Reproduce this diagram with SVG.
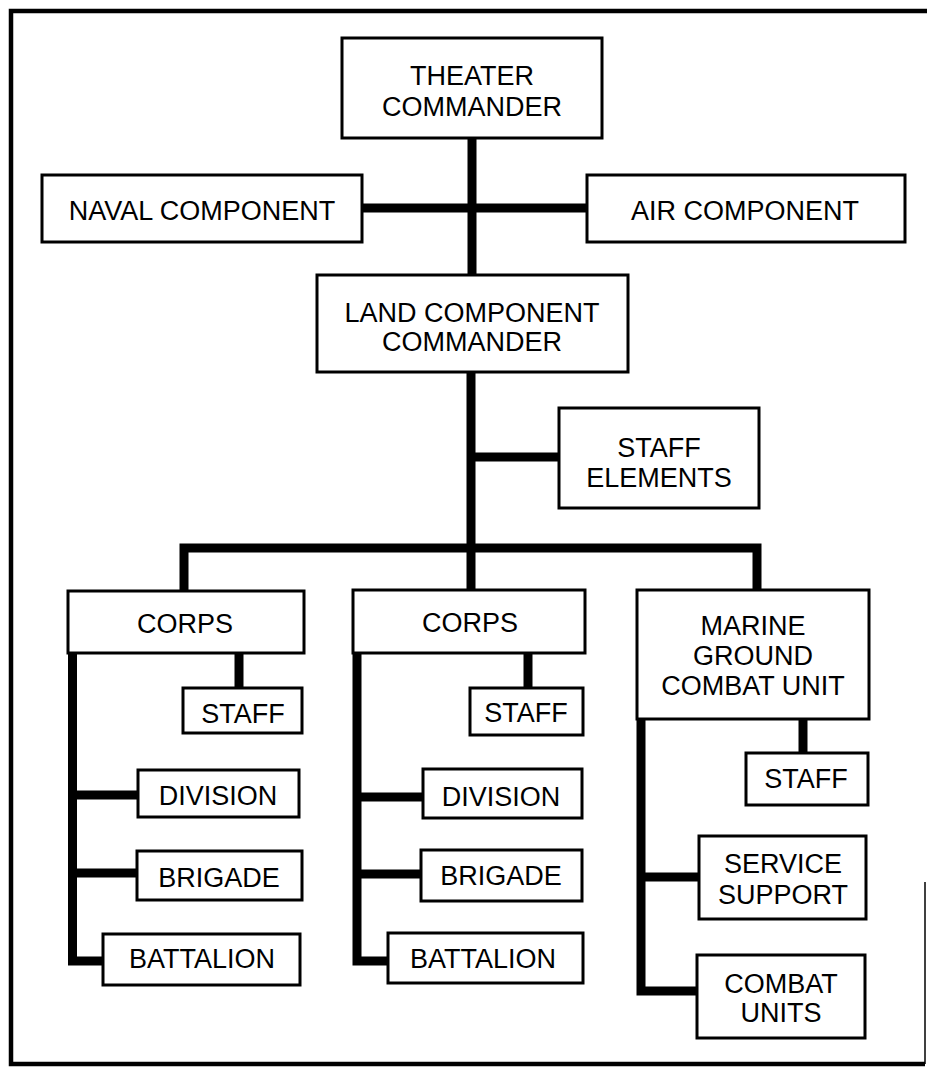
<svg xmlns="http://www.w3.org/2000/svg" width="927" height="1070" viewBox="0 0 927 1070">
<style>
.box{fill:#fff;stroke:#000;stroke-width:3}
.lbl{font-family:"Liberation Sans",Arial,sans-serif;font-size:27px;fill:#000;text-anchor:middle}
.conn{fill:none;stroke:#000;stroke-width:9;stroke-linejoin:miter;stroke-linecap:butt}
.frame{fill:none;stroke:#000;stroke-width:4.5}
</style>
<rect width="927" height="1070" fill="#fff"/>
<g id="frame">
<path class="frame" d="M927 11 H11 V1064 H925"/>
<line x1="925" y1="882" x2="925" y2="1064" stroke="#000" stroke-width="1.5"/>
</g>
<g id="connectors">
<path class="conn" d="M472 138 V275"/>
<path class="conn" d="M362 208 H587"/>
<path class="conn" d="M471 372 V590"/>
<path class="conn" d="M471 457 H559"/>
<path class="conn" d="M184 591 V548 H757 V590"/>
<path class="conn" d="M72.5 653 V961 H103"/>
<path class="conn" d="M72.5 795 H138"/>
<path class="conn" d="M72.5 873 H137"/>
<path class="conn" d="M239 653 V688"/>
<path class="conn" d="M357 653 V961 H388"/>
<path class="conn" d="M357 797 H423"/>
<path class="conn" d="M357 874 H421"/>
<path class="conn" d="M528 653 V688"/>
<path class="conn" d="M641 719 V991 H697"/>
<path class="conn" d="M641 877 H699"/>
<path class="conn" d="M803 719 V753"/>
</g>
<g id="theater"><rect class="box" x="342" y="38" width="260" height="100"/><text class="lbl" x="472" y="85">THEATER</text><text class="lbl" x="472" y="116">COMMANDER</text></g>
<g id="naval"><rect class="box" x="42" y="175" width="320" height="67"/><text class="lbl" x="202" y="220">NAVAL COMPONENT</text></g>
<g id="air"><rect class="box" x="587" y="175" width="318" height="67"/><text class="lbl" x="745" y="220">AIR COMPONENT</text></g>
<g id="land"><rect class="box" x="317" y="275" width="311" height="97"/><text class="lbl" x="472" y="322">LAND COMPONENT</text><text class="lbl" x="472" y="351">COMMANDER</text></g>
<g id="staff-elements"><rect class="box" x="559" y="408" width="200" height="100"/><text class="lbl" x="659" y="457">STAFF</text><text class="lbl" x="659" y="487">ELEMENTS</text></g>
<g id="corps1"><rect class="box" x="68" y="591" width="236" height="62"/><text class="lbl" x="185" y="633">CORPS</text></g>
<g id="corps2"><rect class="box" x="353" y="590" width="232" height="63"/><text class="lbl" x="470" y="632">CORPS</text></g>
<g id="marine"><rect class="box" x="637" y="590" width="232" height="129"/><text class="lbl" x="753" y="635">MARINE</text><text class="lbl" x="753" y="665">GROUND</text><text class="lbl" x="753" y="695">COMBAT UNIT</text></g>
<g id="staff1"><rect class="box" x="183" y="688" width="119" height="45"/><text class="lbl" x="243" y="723">STAFF</text></g>
<g id="staff2"><rect class="box" x="470" y="688" width="113" height="47"/><text class="lbl" x="526" y="722">STAFF</text></g>
<g id="staff3"><rect class="box" x="746" y="753" width="122" height="52"/><text class="lbl" x="806" y="788">STAFF</text></g>
<g id="division1"><rect class="box" x="138" y="770" width="161" height="47"/><text class="lbl" x="218" y="805">DIVISION</text></g>
<g id="division2"><rect class="box" x="423" y="769" width="159" height="49"/><text class="lbl" x="501" y="806">DIVISION</text></g>
<g id="brigade1"><rect class="box" x="137" y="851" width="165" height="49"/><text class="lbl" x="219" y="887">BRIGADE</text></g>
<g id="brigade2"><rect class="box" x="421" y="850" width="161" height="51"/><text class="lbl" x="501" y="885">BRIGADE</text></g>
<g id="battalion1"><rect class="box" x="103" y="934" width="197" height="51"/><text class="lbl" x="202" y="968">BATTALION</text></g>
<g id="battalion2"><rect class="box" x="388" y="933" width="195" height="50"/><text class="lbl" x="483" y="968">BATTALION</text></g>
<g id="service-support"><rect class="box" x="699" y="836" width="167" height="83"/><text class="lbl" x="783" y="873">SERVICE</text><text class="lbl" x="783" y="904">SUPPORT</text></g>
<g id="combat-units"><rect class="box" x="697" y="955" width="168" height="83"/><text class="lbl" x="781" y="993">COMBAT</text><text class="lbl" x="781" y="1022">UNITS</text></g>
</svg>
